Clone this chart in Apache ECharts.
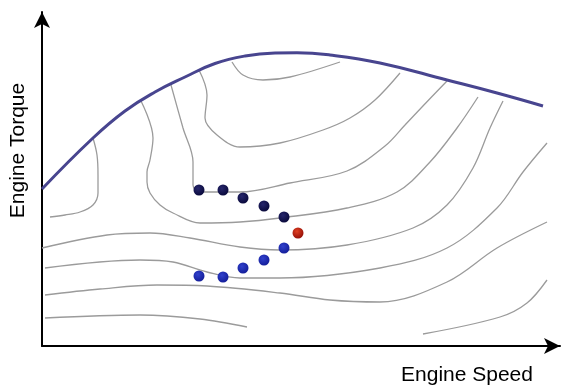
<!DOCTYPE html>
<html>
<head>
<meta charset="utf-8">
<script src="https://cdn.jsdelivr.net/npm/echarts@6/dist/echarts.min.js"></script>
<style>
html,body{margin:0;padding:0;background:#fff;}
#chart{width:563px;height:389px;}
</style>
</head>
<body>
<div id="chart"></div>
<script>
// Axis extents (arbitrary units)
var xMax = 518;
var yMax = 334;

// Full-load torque curve
var torqueCurve = [[0,157],[51,208],[83,235],[113,254],[143,269],[173,282.5],[203,290],[233,293],[255,293.3],[288,291],[338,283],[405,266],[455,253],[501,240]];

// Efficiency contour lines
var contourA = [[51,208],[55,191],[56,171],[56,153],[51,141],[38,134],[23,131],[8,129]];
var contourB = [[99,245],[111,208],[108,186],[105,174],[105,164],[108,153],[118,141],[131,133],[158,123],[198,124],[238,128],[305,138],[355,154],[388,184],[415,218],[436,249]];
var contourD = [[129,261],[141,218],[151,184],[151,161],[158,154],[198,154],[248,163],[305,175],[343,200],[363,221],[380,239],[405,265]];
var contourC = [[157,276],[165,251],[163,228],[175,211],[198,199],[238,203],[281,216],[308,228],[333,246],[358,273]];
var contourF = [[190,284],[201,271],[221,266],[248,269],[298,284]];
var contourE = [[0,98],[65,111],[108,113],[148,108],[198,99],[238,96],[305,101],[371,118],[405,141],[431,178],[448,218],[461,245]];
var contourG = [[3,78],[98,86],[131,84],[165,74],[198,68],[238,68],[338,78],[405,98],[455,138],[481,174],[505,203]];
var contourH = [[3,51],[58,57],[115,61],[165,60],[238,53],[288,46],[338,44],[405,64],[455,98],[505,124]];
var contourJ = [[3,28],[98,31],[158,27],[205,19]];
var contourI = [[381,12],[458,29],[485,43],[505,66]];

// Operating points
var pointsUpper = [[157,156],[181,156],[201,148],[222,140],[242,129]];
var pointOptimal = [[256,113]];
var pointsLower = [[242,98],[222,86],[201,78],[181,69],[157,70]];

// Labels
var xLabel = 'Engine Speed';
var yLabel = 'Engine Torque';

var contours = [contourA, contourB, contourD, contourC, contourF, contourE, contourG, contourH, contourJ, contourI];

function ball(c1, c2) {
  return {
    type: 'radial', x: 0.4, y: 0.35, r: 0.65,
    colorStops: [{offset: 0, color: c1}, {offset: 1, color: c2}]
  };
}

var series = [];
contours.forEach(function (c) {
  series.push({
    type: 'line', data: c, smooth: 0.35, showSymbol: false, silent: true,
    lineStyle: {color: '#9b9b9b', width: 1.3}, z: 2
  });
});
series.push({
  type: 'line', data: torqueCurve, smooth: 0.45, showSymbol: false, silent: true,
  lineStyle: {color: '#48458f', width: 3}, z: 3
});
series.push({
  type: 'scatter', data: pointsUpper, symbolSize: 11, z: 4,
  itemStyle: {opacity: 1, color: ball('#26266c', '#0a0a3c')}
});
series.push({
  type: 'scatter', data: pointsLower, symbolSize: 11, z: 4,
  itemStyle: {opacity: 1, color: ball('#3040cc', '#141e9a')}
});
series.push({
  type: 'scatter', data: pointOptimal, symbolSize: 11, z: 4,
  itemStyle: {opacity: 1, color: ball('#e04022', '#961008')}
});

var axisCommon = {
  type: 'value', min: 0,
  splitLine: {show: false}, axisTick: {show: false}, axisLabel: {show: false},
  axisLine: {show: true, symbol: ['none', 'arrow'], symbolSize: [12, 16],
    lineStyle: {color: '#000', width: 2}}
};

var chart = echarts.init(document.getElementById('chart'));
chart.setOption({
  animation: false,
  backgroundColor: '#fff',
  grid: {left: 42, right: 3, top: 12, bottom: 43},
  xAxis: Object.assign({}, axisCommon, {max: xMax}),
  yAxis: Object.assign({}, axisCommon, {max: yMax}),
  graphic: [
    {type: 'text', x: 467, y: 375, style: {text: xLabel, fontSize: 21, fontFamily: 'Liberation Sans, Arial, sans-serif', fill: '#000', align: 'center', verticalAlign: 'middle'}},
    {type: 'text', x: 18.5, y: 150.5, rotation: Math.PI / 2, style: {text: yLabel, fontSize: 21, fontFamily: 'Liberation Sans, Arial, sans-serif', fill: '#000', align: 'center', verticalAlign: 'middle'}}
  ],
  series: series
});
</script>
</body>
</html>
